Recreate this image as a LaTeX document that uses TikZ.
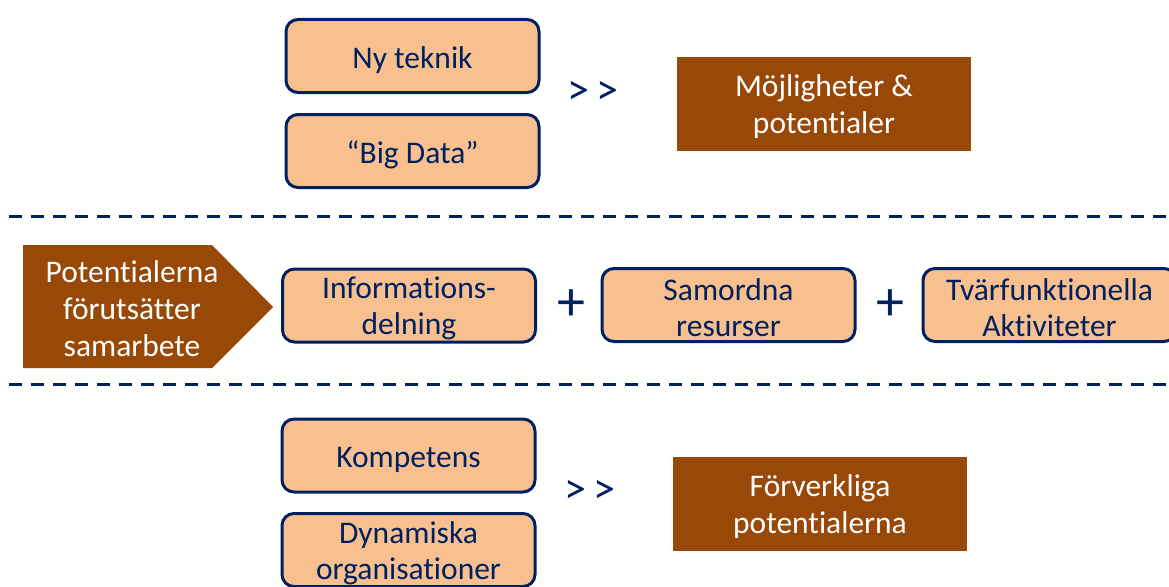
\documentclass[tikz,border=0pt]{standalone}
\usepackage{fontspec}
\setmainfont[Ligatures=CommonOff]{Carlito}
\definecolor{navy}{HTML}{002060}
\definecolor{peach}{HTML}{F8C08F}
\definecolor{rust}{HTML}{984807}
\tikzset{
  item/.style={draw=navy, line width=3pt, fill=peach, rounded corners=12pt,
    minimum width=253pt, minimum height=73pt, inner sep=0pt},
  itemtext/.style={align=center, text=navy, inner sep=0pt,
    font=\fontsize{31.5}{36}\selectfont},
  result/.style={fill=rust, minimum width=294pt, minimum height=94pt, inner sep=0pt},
  resulttext/.style={align=center, text=white, inner sep=0pt,
    font=\fontsize{31.5}{37}\selectfont},
  sign/.style={text=navy, inner sep=0pt},
  divider/.style={draw=navy, line width=3pt, dash pattern=on 13pt off 9pt},
}
\begin{document}
\begin{tikzpicture}[x=1pt,y=-1pt]
\useasboundingbox (0,0) rectangle (1169,586);
\begin{scope}
\clip (0,0) rectangle (1169,586);

% top group
\node[item] (tech) at (412.5,56) {};
\node[itemtext] (techtxt) at ([yshift=-4pt]tech.center) {Ny teknik};
\node[item] (data) at (412.5,151) {};
\node[itemtext] (datatxt) at ([yshift=-4pt]data.center) {“Big Data”};
\node[sign, font=\fontsize{44}{44}\selectfont] (gt1) at (593,93) {>\,>};
\node[result] (poss) at (824,104) {};
\node[resulttext] (posstxt) at ([yshift=-3pt]poss.center) {Möjligheter \&\\potentialer};

% dividers
\coordinate (d1a) at (9,216);
\coordinate (d1b) at (1169,216);
\coordinate (d2a) at (9,384);
\coordinate (d2b) at (1169,384);
\draw[divider] (d1a) -- (d1b);
\draw[divider] (d2a) -- (d2b);

% middle row
\fill[rust] (23,245) -- (212,245) -- (273,307) -- (212,368) -- (23,368) -- cycle;
\node[resulttext] (coop) at (132,309) {Potentialerna\\förutsätter\\samarbete};
\node[item] (info) at (409,305.5) {};
\node[itemtext] (infotxt) at ([yshift=-3pt]info.center) {Informations-\\delning};
\node[sign, font=\fontsize{56}{56}\selectfont] (plus1) at (571,305) {+};
\node[item] (res) at (728.5,305) {};
\node[itemtext] (restxt) at ([yshift=-3pt]res.center) {Samordna\\resurser};
\node[sign, font=\fontsize{56}{56}\selectfont] (plus2) at (890,305) {+};
\node[item] (act) at (1049.5,305) {};
\node[itemtext] (acttxt) at ([yshift=-3pt]act.center) {Tvärfunktionella\\Aktiviteter};

% bottom group
\node[item] (comp) at (408.5,455.5) {};
\node[itemtext] (comptxt) at ([yshift=-4pt]comp.center) {Kompetens};
\node[item] (org) at (408.5,550) {};
\node[itemtext] (orgtxt) at ([yshift=-3pt]org.center) {Dynamiska\\organisationer};
\node[sign, font=\fontsize{44}{44}\selectfont] (gt2) at (590,492) {>\,>};
\node[result] (real) at (820,504) {};
\node[resulttext] (realtxt) at ([yshift=-3pt]real.center) {Förverkliga\\potentialerna};
\end{scope}
\end{tikzpicture}
\end{document}
